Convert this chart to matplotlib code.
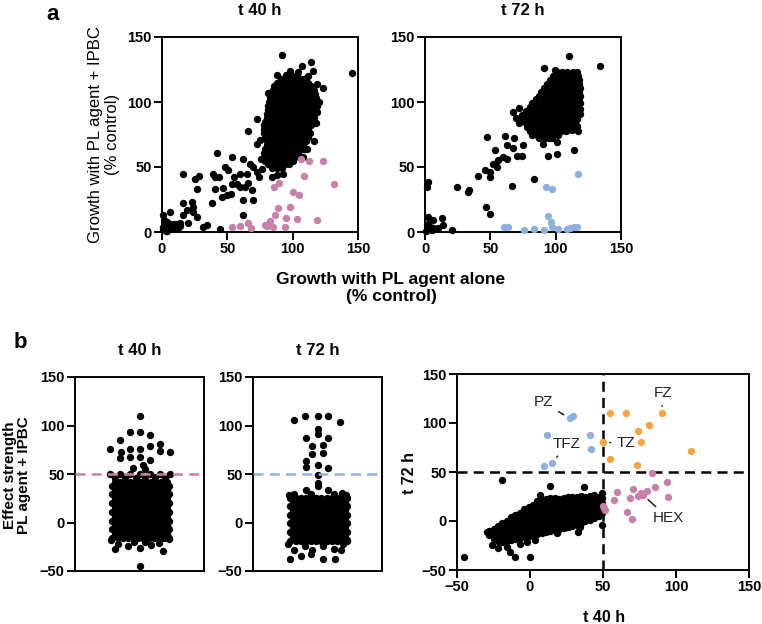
import numpy as np
import matplotlib.pyplot as plt

plt.rcParams['font.family'] = ['Liberation Sans', 'DejaVu Sans']
plt.rcParams['axes.linewidth'] = 1.4

black = '#000000'
pink = '#C880A9'
blue = '#8DB1DD'
orange = '#F8A43E'

# ---------------- panel a, t 40 h ----------------
# dense core, rows of (y, x values)
a40_core = [
    (121, [95, 99, 103]),
    (118, [91, 94, 98, 102, 106, 109]),
    (115, [88, 92, 96, 100, 104, 108, 112]),
    (112, [86, 90, 94, 98, 102, 106, 110, 114]),
    (109, [85, 88, 92, 96, 100, 104, 108, 112, 116]),
    (106, [84, 86, 90, 94, 98, 102, 106, 110, 114, 117]),
    (103, [83, 88, 92, 96, 100, 104, 108, 112, 116, 118]),
    (100, [82, 86, 90, 94, 98, 102, 106, 110, 114, 118]),
    (97, [81, 84, 88, 92, 96, 100, 104, 108, 112, 116, 119]),
    (94, [81, 86, 90, 94, 98, 102, 106, 110, 114, 117]),
    (91, [80, 84, 88, 92, 96, 100, 104, 108, 112, 116]),
    (88, [80, 82, 86, 90, 94, 98, 102, 106, 110, 114, 116]),
    (85, [79, 84, 88, 92, 96, 100, 104, 108, 112, 115]),
    (82, [78, 82, 86, 90, 94, 98, 102, 106, 110, 114]),
    (79, [78, 80, 84, 88, 92, 96, 100, 104, 108, 112]),
    (76, [78, 82, 86, 90, 94, 98, 102, 106, 110, 113]),
    (73, [79, 84, 88, 92, 96, 100, 104, 108, 112]),
    (70, [80, 82, 86, 90, 94, 98, 102, 106, 110]),
    (67, [80, 84, 88, 92, 96, 100, 104, 108]),
    (64, [79, 82, 86, 90, 94, 98, 102, 106, 109]),
    (61, [78, 80, 84, 88, 92, 96, 100, 104]),
    (58, [78, 82, 86, 90, 94, 98, 102]),
    (55, [79, 84, 88, 92, 96, 100]),
    (52, [81, 86, 90, 94, 97]),
    (49, [84, 88, 92]),
]
a40_other = [
    (145.4, 122.5), (91.6, 136), (113.8, 131), (106.9, 127.8), (115.8, 124),
    (123.4, 110.4), (118.4, 113.8), (81.3, 107.3), (86.5, 107.3), (120, 100),
    (119, 92), (118, 84), (116, 70), (111, 64), (108, 58), (112, 120),
    (98, 124), (104, 123), (88, 121),
    (66, 78), (72.9, 87), (75, 70.4), (72.4, 67.9), (76, 56), (83.9, 42.3),
    (92.8, 44.9), (88, 44), (76.3, 48.7), (74.5, 42.3), (72.4, 46.1),
    (41.8, 60.7), (16.3, 44.4), (25.3, 41), (28.6, 43), (27, 33.4),
    (39.3, 44.9), (40.5, 42.3), (43.9, 42.3), (40.5, 33), (46.9, 34.2),
    (48.2, 50), (50.8, 47.4), (53.3, 57.6), (55.1, 42.3), (59.7, 44.9),
    (61.7, 56.4), (65.3, 44.9), (67.3, 52.5), (69.4, 50), (66, 37.7),
    (63.5, 34.7), (59.7, 34.7), (57.1, 37.3), (53.3, 36.7), (52.6, 29.1),
    (49.5, 28.3), (45.7, 27), (62.2, 24.5), (69.9, 24.5), (68.6, 32.1),
    (61.7, 13), (38, 22), (16.3, 22), (22.7, 23.2), (24, 19.4), (18.9, 16.8),
    (16.3, 13), (24, 15.5), (26.5, 11.7), (20.1, 6.7), (13.8, 6.7), (7.4, 4.1),
    (3.6, 6.7), (6.1, 15.5), (1, 13), (31.6, 4.1), (34.2, 5.4), (44.4, 2),
    (1, 2), (2.5, 5), (4, 8), (3, 1), (5, 3), (6.5, 6), (8, 2.5), (10, 4),
    (12, 3), (1.5, 9), (0.5, 4), (9, 6.5), (4, 0.5), (11, 6), (14, 4.3),
]
a40_hits = [
    (106.4, 56.3), (112.5, 54.7), (123.5, 54.7), (131.4, 37), (109, 42.7),
    (89.5, 38), (85.7, 35), (100.3, 30.7), (105, 28.6), (98.2, 18.9),
    (88.8, 18.4), (86.7, 13.3), (95, 10.7), (103.3, 10.2), (118.6, 8.9),
    (82.9, 8.2), (80.4, 4.3), (78.6, 5.1), (85, 3.6), (93.9, 3.6),
    (65.8, 6.9), (68.4, 3.1), (59.4, 4.3), (53.6, 3.6),
]

# ---------------- panel a, t 72 h ----------------
a72_core = [
    (123, [101, 105, 109, 113, 116]),
    (120, [98, 102, 106, 110, 114, 117]),
    (117, [96, 100, 104, 108, 112, 116, 118]),
    (114, [93, 98, 102, 106, 110, 114, 118]),
    (111, [91, 96, 100, 104, 108, 112, 116, 119]),
    (108, [89, 94, 98, 102, 106, 110, 114, 118]),
    (105, [87, 92, 96, 100, 104, 108, 112, 116, 119]),
    (102, [85, 90, 94, 98, 102, 106, 110, 114, 118]),
    (99, [82, 86, 90, 94, 98, 102, 106, 110, 114, 117, 119]),
    (96, [80, 84, 88, 92, 96, 100, 104, 108, 112, 116]),
    (93, [77, 80, 84, 88, 92, 96, 100, 104, 108, 112, 116, 118]),
    (90, [74, 78, 82, 86, 90, 94, 98, 102, 106, 110, 114, 117]),
    (87, [75, 80, 84, 88, 92, 96, 100, 104, 108, 112, 116]),
    (84, [77, 82, 86, 90, 94, 98, 102, 106, 110, 114]),
    (81, [78, 80, 84, 88, 92, 96, 100, 104, 108, 112]),
    (78, [80, 84, 88, 92, 96, 100, 104, 108]),
    (75, [82, 86, 90, 94, 98, 102]),
    (72, [87, 92, 97]),
]
a72_other = [
    (133.7, 127.5), (110.2, 135.4), (91.3, 126), (99.5, 124.5), (67.7, 92.5),
    (72, 95.6), (47.2, 72.9), (61.2, 74.2), (68.3, 72.4), (62.5, 66.6),
    (67.6, 64.8), (75.2, 66.6), (53.6, 62.7), (56.1, 55.1), (59.9, 57.6),
    (62.5, 56.4), (70.2, 58.1), (74, 58.1), (52.3, 52.5), (54.8, 50),
    (49.7, 46.1), (45.9, 47.4), (49.7, 42.3), (40.3, 42.8), (24.2, 34.7),
    (33.2, 30.4), (33.5, 32), (46.7, 18.9), (49.7, 13.5), (66.3, 35.2),
    (83.6, 41), (93.9, 58.1), (100.8, 59.7), (114, 63.3), (116, 81.9),
    (117.3, 78), (112.2, 78.6), (109, 79.7), (101, 69.5), (90, 68), (94.6, 72),
    (118.8, 91), (119, 95), (2.6, 38.5), (1.3, 34.7), (2.6, 11.7), (6.4, 9.2),
    (12.8, 10.5), (14, 5.4), (20.4, 1.5), (3.8, 4.1), (6.4, 2.8), (1.3, 1.5),
    (5.1, 1.5), (10.2, 2.8), (0.5, 0.5), (2, 6), (70, 88), (72, 84),
]
a72_hits = [
    (116.8, 44.7), (92.8, 34.5), (97.1, 33), (93.8, 12.5), (96.3, 7.4),
    (97.1, 3.8), (60.8, 3.6), (63.9, 3.6), (75.9, 1.8), (83.6, 2.6),
    (90.7, 1.8), (101.7, 2.6), (108.6, 2.6), (111, 3), (113.7, 3.6), (116.3, 3.8),
]

# ---------------- panel b, effect strength swarms ----------------
swarm_cols_a = [-0.42, -0.34, -0.26, -0.18, -0.10, -0.02, 0.06, 0.14, 0.22, 0.30, 0.38, 0.45]
swarm_cols_b = [-0.38, -0.30, -0.22, -0.14, -0.06, 0.02, 0.10, 0.18, 0.26, 0.34, 0.42]
b40_rows = [-16, -11.5, -7, -2.5, 2, 6.5, 11, 15.5, 20, 24.5, 29, 33.5, 38, 42]
b72_rows = [-19, -14.5, -10, -5.5, -1, 3.5, 8, 12.5, 17, 21.5, 25]
b40_other = [
    (0.0, 109.5), (-0.14, 93), (0.0, 93), (0.16, 90), (-0.30, 85.4),
    (-0.46, 75.8), (0.32, 80.6), (0.16, 78.9), (0.47, 73), (-0.29, 73),
    (-0.14, 75.8), (0.0, 75.8), (-0.30, 66), (-0.14, 68), (0.0, 68),
    (0.17, 64.8), (0.32, 73.7), (-0.10, 56.5), (0.06, 59), (0.08, 55),
    (-0.46, 50), (-0.30, 49.5), (-0.14, 50), (0.0, 49.5), (0.16, 50),
    (0.32, 50), (0.47, 50), (-0.38, 46), (-0.22, 47), (-0.06, 46),
    (0.08, 47), (0.24, 46.5), (0.40, 46), (-0.38, -27), (-0.33, -22),
    (-0.18, -24), (0.0, -26), (0.18, -23.5), (0.36, -29), (0.0, -45),
    (0.30, -21), (0.46, -17), (-0.44, -18), (-0.08, -20), (0.08, -20.5),
]
b72_other = [
    (-0.36, 106), (-0.19, 109.8), (0.0, 109.5), (0.17, 109.5), (0.35, 103.6),
    (0.0, 96.7), (0.0, 91.6), (-0.18, 87), (0.17, 87), (-0.09, 78.9),
    (0.08, 79.6), (-0.09, 70.3), (0.08, 72), (-0.18, 63), (-0.18, 57.2),
    (0.0, 59), (0.17, 56.5), (0.0, 48.6), (0.0, 40.7), (0.0, 37.3),
    (-0.18, 33.8), (0.17, 33.8), (0.25, 29.7), (-0.44, 28), (-0.36, 29),
    (-0.10, 29), (0.38, 30), (0.44, 28), (-0.36, -28), (-0.19, -24.6),
    (-0.09, -28.7), (0.08, -24.6), (0.25, -27), (0.36, -28.7), (-0.42, -37.3),
    (-0.26, -35), (-0.10, -32.8), (0.09, -37.3), (0.27, -37.3), (0.45, -18),
    (-0.46, -22), (0.40, -22),
]

# ---------------- panel b, t 40 h vs t 72 h ----------------
# dense band, columns of (x, y values)
bxy_band = [
    (-28, [-14, -10]),
    (-25, [-18, -13, -8]),
    (-22, [-20, -15, -10, -5]),
    (-19, [-21, -16, -11, -6, -2]),
    (-16, [-20, -15, -10, -5, 0]),
    (-13, [-19, -14, -9, -4, 1, 4]),
    (-10, [-18, -13, -8, -3, 2, 6]),
    (-7, [-17, -12, -7, -2, 3, 8]),
    (-4, [-16, -11, -6, -1, 4, 9, 12]),
    (-1, [-15, -10, -5, 0, 5, 10, 14]),
    (2, [-14, -9, -4, 1, 6, 11, 16]),
    (5, [-13, -8, -3, 2, 7, 12, 17, 20]),
    (8, [-12, -7, -2, 3, 8, 13, 18, 21]),
    (11, [-11, -6, -1, 4, 9, 14, 19, 22]),
    (14, [-10, -5, 0, 5, 10, 15, 20, 23]),
    (17, [-9, -4, 1, 6, 11, 16, 21, 23]),
    (20, [-8, -3, 2, 7, 12, 17, 22]),
    (23, [-7, -2, 3, 8, 13, 18, 23]),
    (26, [-6, -1, 4, 9, 14, 19, 24]),
    (29, [-5, 0, 5, 10, 15, 20, 24]),
    (32, [-4, 1, 6, 11, 16, 21, 25]),
    (35, [-2, 3, 8, 13, 18, 23, 26]),
    (38, [0, 5, 10, 15, 20, 25]),
    (41, [1, 6, 11, 16, 21, 26]),
    (44, [3, 8, 13, 18, 23, 27]),
    (47, [5, 10, 15, 20, 25]),
    (49, [8, 13, 18, 23]),
]
bxy_other = [
    (-45, -37), (-19.4, 41.8), (0, -37), (13.7, 35.7), (37.2, 35),
    (-29.7, -11), (-26.2, -24.5), (-21.7, -27.9), (-16, -26.9),
    (-13.7, -31.3), (-10.3, -36.7), (-6.8, -23.5), (-2.3, -21),
    (3.4, -19.4), (18.3, -12.6), (33.1, -10.9), (34.2, -5.8),
    (49.1, -4), (26.2, -5.8), (49, 28.6), (7, 26.5),
]
bxy_blue = [
    (27.1, 104.7), (29.4, 106.7), (11.6, 87.6), (41.2, 87.6), (41.7, 73.3),
    (9.7, 56.3), (15.4, 59.4),
]
bxy_orange = [
    (54.9, 110.1), (65.6, 110.1), (90.2, 110.1), (81.4, 97.5), (73.8, 91.7),
    (75.9, 80.2), (49.9, 80.2), (54.9, 63.1), (73.6, 57), (110.1, 71.3),
]
bxy_pink = [
    (83.9, 49.1), (93.7, 39.3), (59.5, 29.4), (57.2, 21.6), (68.6, 23.3),
    (70.4, 33.1), (73.8, 26), (75.9, 28.4), (77.3, 26.7), (80, 30.8),
    (85.9, 35.2), (94.4, 25), (66.3, 9.6), (70.2, 2.5), (50.3, 15.8),
    (51.5, 11.4), (50.5, 13.5),
]
# labels: (text, text position, point the leader goes to)
bxy_labels = [
    ('PZ', (9.3, 121), (27.1, 104.7)),
    ('FZ', (91, 130.6), (90.2, 110.1)),
    ('TFZ', (25.3, 78.4), (15.4, 59.4)),
    ('TZ', (65.5, 79.5), (49.9, 80.2)),
    ('HEX', (94.8, 2.8), (77.3, 26.7)),
]


def rows_xy(rows):
    xs, ys = [], []
    for y, xv in rows:
        xs += list(xv)
        ys += [y] * len(xv)
    return np.array(xs), np.array(ys)


def cols_xy(cols):
    ys, xs = rows_xy(cols)
    return xs, ys


def swarm_xy(rows):
    xs, ys = [], []
    for i, y in enumerate(rows):
        c = swarm_cols_a if i % 2 == 0 else swarm_cols_b
        xs += c
        ys += [y] * len(c)
    return np.array(xs), np.array(ys)


def pts(p):
    a = np.array(p, dtype=float)
    return a[:, 0], a[:, 1]


S = 28


def style(ax, xticks=True):
    ax.tick_params(direction='out', length=5.5, width=1.4, pad=2)
    for lab in ax.get_xticklabels() + ax.get_yticklabels():
        lab.set_fontsize(10.5)
        lab.set_fontweight('bold')
    if not xticks:
        ax.set_xticks([])


W, H = 762, 624
fig = plt.figure(figsize=(W / 100, H / 100), dpi=100)


def add_axes(l, t, r, b):
    return fig.add_axes([l / W, 1 - b / H, (r - l) / W, (b - t) / H])


# panel a
ax1 = add_axes(162, 37, 358, 232)
ax2 = add_axes(425, 37, 621, 232)
for ax, core, other, hits, col, title in [
        (ax1, a40_core, a40_other, a40_hits, pink, 't 40 h'),
        (ax2, a72_core, a72_other, a72_hits, blue, 't 72 h')]:
    x, y = rows_xy(core)
    ax.scatter(x, y, s=S, c=black, lw=0, clip_on=False)
    x, y = pts(other)
    ax.scatter(x, y, s=S, c=black, lw=0, clip_on=False)
    x, y = pts(hits)
    ax.scatter(x, y, s=S, c=col, lw=0, clip_on=False, zorder=3)
    ax.set_xlim(0, 150)
    ax.set_ylim(0, 150)
    ax.set_xticks([0, 50, 100, 150])
    ax.set_yticks([0, 50, 100, 150])
    ax.set_title(title, fontsize=12, fontweight='bold', pad=16)
    style(ax)

fig.text(53 / W, 1 - 14 / H, 'a', fontsize=16, fontweight='bold', ha='center', va='center')
fig.text(104 / W, 1 - 134.5 / H, 'Growth with PL agent + IPBC\n(% control)',
         rotation=90, ha='center', va='center', fontsize=12, linespacing=1.15)
fig.text(391 / W, 1 - 288 / H, 'Growth with PL agent alone\n(% control)',
         ha='center', va='center', fontsize=12.5, fontweight='bold', linespacing=1.15)

# panel b swarms
ax3 = add_axes(75, 377, 204, 571)
ax4 = add_axes(253, 377, 382, 571)
for ax, rows, other, col, title in [
        (ax3, b40_rows, b40_other, pink, 't 40 h'),
        (ax4, b72_rows, b72_other, blue, 't 72 h')]:
    x, y = swarm_xy(rows)
    ax.scatter(x, y, s=S, c=black, lw=0, clip_on=False)
    x, y = pts(other)
    ax.scatter(x, y, s=S, c=black, lw=0, clip_on=False)
    ax.axhline(50, color=col, lw=1.8, ls=(0, (4, 2.5)), zorder=3)
    ax.set_xlim(-1, 1)
    ax.set_ylim(-50, 150)
    ax.set_yticks([-50, 0, 50, 100, 150])
    ax.set_title(title, fontsize=12, fontweight='bold', pad=16)
    style(ax, xticks=False)

fig.text(20 / W, 1 - 343 / H, 'b', fontsize=16, fontweight='bold', ha='center', va='center')
fig.text(17 / W, 1 - 475 / H, 'Effect strength\nPL agent + IPBC', rotation=90,
         ha='center', va='center', fontsize=11, fontweight='bold', linespacing=1.05)

# panel b scatter
ax5 = add_axes(457, 374, 749, 570)
x, y = cols_xy(bxy_band)
ax5.scatter(x, y, s=S, c=black, lw=0)
x, y = pts(bxy_other)
ax5.scatter(x, y, s=S, c=black, lw=0)
for p, col in [(bxy_blue, blue), (bxy_orange, orange), (bxy_pink, pink)]:
    x, y = pts(p)
    ax5.scatter(x, y, s=S, c=col, lw=0, zorder=3)
ax5.axhline(50, color=black, lw=1.8, ls=(0, (4, 2.5)), zorder=2)
ax5.axvline(50, color=black, lw=1.8, ls=(0, (4, 2.5)), zorder=2)
for txt, tp, xy in bxy_labels:
    ax5.annotate(txt, xy=xy, xytext=tp, ha='center', va='center', fontsize=11,
                 color='#222222', zorder=5,
                 arrowprops=dict(arrowstyle='-', color='#222222', lw=1.1,
                                 shrinkA=2, shrinkB=5))
ax5.set_xlim(-50, 150)
ax5.set_ylim(-50, 150)
ax5.set_xticks([-50, 0, 50, 100, 150])
ax5.set_yticks([-50, 0, 50, 100, 150])
style(ax5)
fig.text(410 / W, 1 - 473 / H, 't 72 h', rotation=90, ha='center', va='center',
         fontsize=11.5, fontweight='bold')
fig.text(604 / W, 1 - 617 / H, 't 40 h', ha='center', va='center',
         fontsize=11.5, fontweight='bold')

fig.savefig('out.png', dpi=100)
